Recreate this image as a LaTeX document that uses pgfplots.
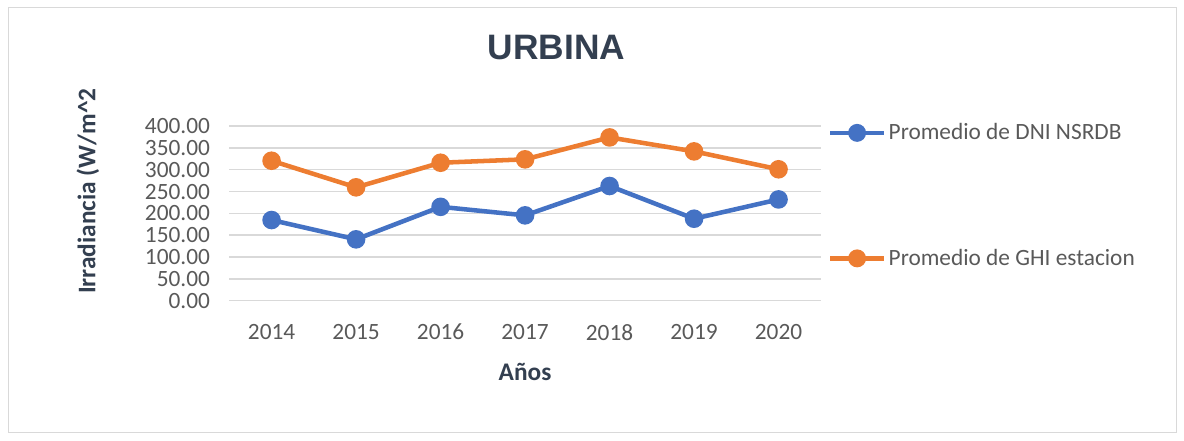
\documentclass[border=0pt]{standalone}
\usepackage{fontspec}
\setmainfont{Carlito}
\newfontfamily\arialf{Liberation Sans}
\usepackage{pgfplots}
\pgfplotsset{compat=1.18}
\definecolor{cblue}{HTML}{4472C4}
\definecolor{corange}{HTML}{ED7D31}
\definecolor{cgrid}{HTML}{D9D9D9}
\definecolor{ctick}{HTML}{595959}
\definecolor{ctitle}{HTML}{333F50}
\begin{document}
\begin{tikzpicture}
\useasboundingbox (0pt,0pt) rectangle (888pt,330.75pt);
\draw[cgrid,line width=0.75pt] (6pt,6pt) rectangle (882pt,324.75pt);
\node[font=\arialf\fontsize{26.5}{30}\selectfont\bfseries,text=ctitle,anchor=base,inner sep=0pt] at (417.5pt,286.3pt) {URBINA};
\begin{axis}[
  at={(172pt,105.2pt)}, anchor=south west,
  width=443.6pt, height=131pt, scale only axis,
  xmin=-0.5, xmax=6.5, ymin=0, ymax=400,
  xtick=data, xticklabels={2014,2015,2016,2017,2018,2019,2020},
  ytick={0,50,...,400},
  yticklabel={\pgfmathprintnumber[fixed,fixed zerofill,precision=2]{\tick}},
  /pgf/number format/assume math mode=true,
  ymajorgrids, grid style={cgrid,line width=1.1pt},
  axis line style={draw=none},
  major tick length=0pt,
  tick label style={font=\fontsize{17.5}{20}\selectfont,text=ctick},
  yticklabel style={xshift=-11pt},
  xticklabel style={yshift=-14pt},
  xlabel={Años}, ylabel={Irradiancia (W/m\textasciicircum 2},
  every axis x label/.style={at={(axis description cs:0.5,-0.408)},anchor=center,font=\fontsize{19}{22}\selectfont\bfseries,text=ctitle},
  every axis y label/.style={at={(axis description cs:-0.239,0.628)},anchor=center,rotate=90,font=\fontsize{19}{22}\selectfont\bfseries,text=ctitle},
  legend style={at={(axis description cs:1.012,1.03)},anchor=north west,draw=none,fill=none,
    font=\fontsize{17.5}{20}\selectfont,text=ctick,row sep=76.5pt,inner sep=0pt},
  legend cell align=left,
  legend image code/.code={\draw[mark repeat=2,mark phase=2,mark size=5pt,#1] plot coordinates {(0pt,0pt) (20pt,0pt) (40pt,0pt)};},
  clip=false,
]
\addplot[cblue,line width=3.4pt,mark=*,mark size=5.25pt] coordinates {
(0,184.8) (1,140.6) (2,215) (3,195.5) (4,262.7) (5,187.8) (6,232)};
\addlegendentry{Promedio de DNI NSRDB}
\addplot[corange,line width=3.4pt,mark=*,mark size=5.25pt] coordinates {
(0,320.6) (1,259.7) (2,316) (3,323.8) (4,374) (5,342) (6,301)};
\addlegendentry{Promedio de GHI estacion}
\end{axis}
\end{tikzpicture}
\end{document}
